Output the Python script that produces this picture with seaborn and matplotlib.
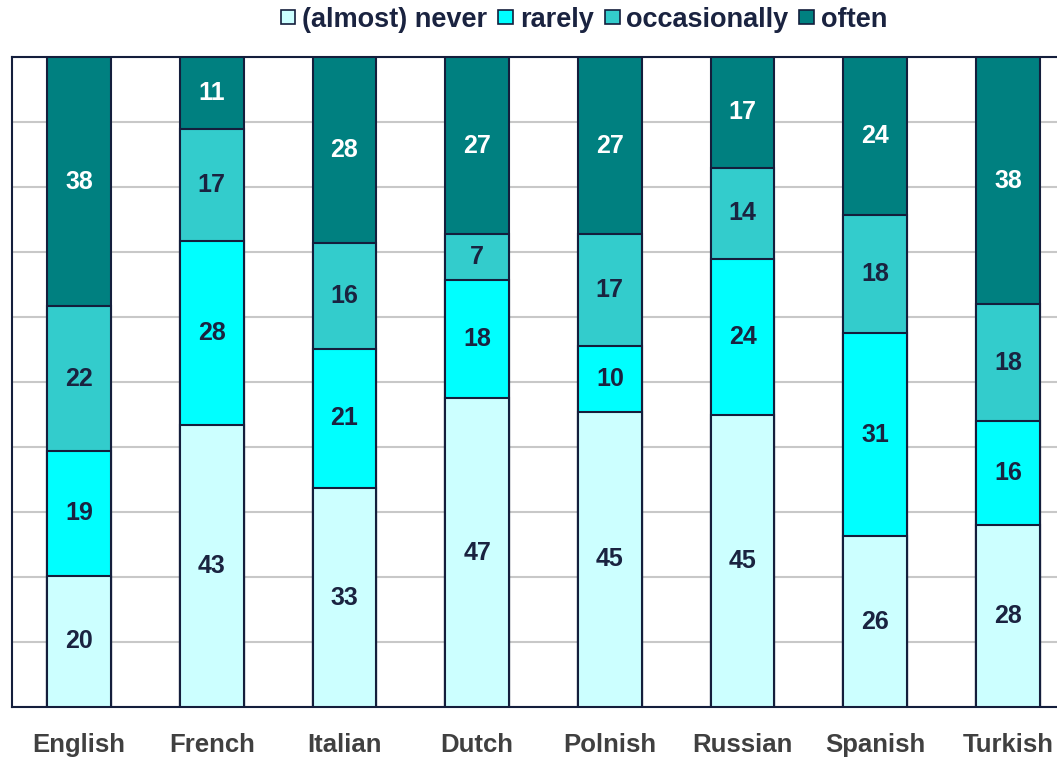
import pandas as pd
import matplotlib.pyplot as plt
import seaborn as sns
from matplotlib.patches import Patch

# data (label values, the chart is a 100% stacked column)
languages = ["English", "French", "Italian", "Dutch", "Polnish", "Russian", "Spanish", "Turkish"]
never = [20, 43, 33, 47, 45, 45, 26, 28]
rarely = [19, 28, 21, 18, 10, 24, 31, 16]
occasionally = [22, 17, 16, 7, 17, 14, 18, 18]
often = [38, 11, 28, 27, 27, 17, 24, 38]

series_names = ["(almost) never", "rarely", "occasionally", "often"]
colors = ["#ccffff", "#00ffff", "#33cccc", "#008080"]
edge = "#141e3c"
navy = "#1a2340"

sns.set_theme(style="white")
plt.rcParams['font.family'] = ['Liberation Sans', 'DejaVu Sans']

df = pd.DataFrame({"language": languages, "never": never, "rarely": rarely,
                   "occasionally": occasionally, "often": often})
cols = ["never", "rarely", "occasionally", "often"]
total = df[cols].sum(axis=1)
pct = df[cols].div(total, axis=0) * 100
cum = pct.cumsum(axis=1)

fig = plt.figure(figsize=(10.57, 7.6), dpi=100)
ax = fig.add_axes([12 / 1057, 53 / 760, 1063 / 1057, 650 / 760])

# draw from the top layer down so each lower layer covers the previous one
for col, color in zip(cols[::-1], colors[::-1]):
    plot_df = pd.DataFrame({"language": languages, "value": cum[col].values})
    sns.barplot(data=plot_df, x="language", y="value", color=color, width=0.48,
                edgecolor=edge, linewidth=1.5, saturation=1, ax=ax, zorder=3)

# segment labels
for i in range(len(languages)):
    for j, col in enumerate(cols):
        top = cum[col].iloc[i]
        bottom = top - pct[col].iloc[i]
        ax.text(i, (top + bottom) / 2, str(df[col].iloc[i]), ha="center", va="center",
                fontsize=18, fontweight="bold", color="white" if col == "often" else navy,
                zorder=5)

ax.set_xlim(-0.505, 7.505)
ax.set_ylim(0, 100)
ax.set_yticks(range(0, 101, 10))
ax.set_yticklabels([])
ax.yaxis.grid(True, color="#c8c8c8", linewidth=1.5, zorder=0)
ax.set_axisbelow(True)
ax.set_xlabel("")
ax.set_ylabel("")
ax.tick_params(axis="x", length=0, pad=19, labelsize=18.5, labelcolor="#404040")
ax.tick_params(axis="y", length=0)
for lbl in ax.get_xticklabels():
    lbl.set_fontweight("bold")
for side in ["left", "top", "bottom"]:
    ax.spines[side].set_color(edge)
    ax.spines[side].set_linewidth(1.5)
ax.spines["right"].set_visible(False)

handles = [Patch(facecolor=c, edgecolor=edge, linewidth=1.2) for c in colors]
leg = fig.legend(handles, series_names, loc="center", bbox_to_anchor=(584 / 1057, 1 - 20 / 760),
                 ncol=4, frameon=False, handlelength=0.55, handleheight=0.4,
                 handletextpad=0.25, columnspacing=0.4,
                 prop={"weight": "bold", "size": 19.5})
for t in leg.get_texts():
    t.set_color(navy)

fig.savefig("out.png", dpi=100)
